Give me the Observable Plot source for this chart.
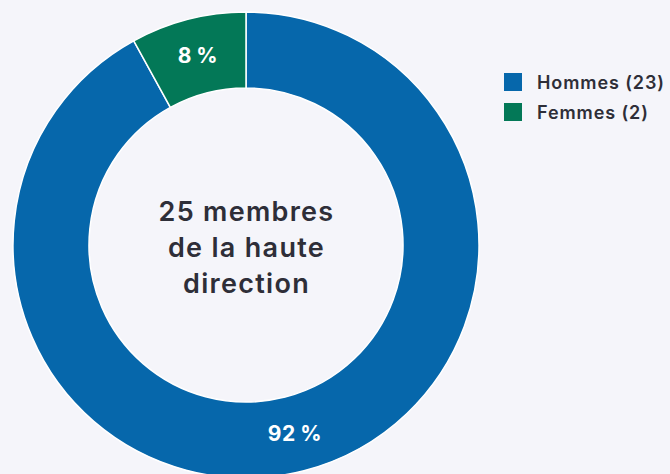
<!DOCTYPE html>
<html><head><meta charset="utf-8">
<script src="https://cdn.jsdelivr.net/npm/d3@7"></script>
<script src="https://cdn.jsdelivr.net/npm/@observablehq/plot@0.6"></script>
<style>
body{margin:0;background:#f5f5fa;}
#wrap{position:relative;width:670px;height:474px;overflow:hidden;font-family:Inter,"Noto Sans",sans-serif;}
#wrap svg{display:block;background:transparent;}
.legend{position:absolute;left:504px;top:73px;}
.item{display:flex;align-items:center;height:18px;margin-bottom:12px;font-size:18px;font-weight:600;color:#2e2e38;white-space:nowrap;letter-spacing:0.9px;}
.sw{width:18px;height:18px;margin-right:15px;flex:none;}
</style></head><body><div id="wrap"></div>
<script>
const categories = ["Hommes", "Femmes"];
const counts = [23, 2];
const colors = ["#0667ab", "#037857"];
const centerLines = ["25 membres", "de la haute", "direction"];

const W = 670, H = 474, R = 233, CX = 246, CY = 245, INNER = 157 / 233;
const data = categories.map((c, i) => ({category: c, count: counts[i], color: colors[i]}));
const total = d3.sum(counts);
const arcs = d3.pie().sort(null).value(d => d.count)(data);
const arcUnit = d3.arc().innerRadius(INNER).outerRadius(1);
const labels = arcs.map(a => {
  const [sx, sy] = arcUnit.centroid(a);
  return {x: sx, y: -sy, text: Math.round(100 * a.data.count / total) + "\u2009%"};
});

const donut = (index, scales) => {
  const x = scales.x, y = scales.y;
  const r = x(1) - x(0);
  const arc = d3.arc().innerRadius(INNER * r).outerRadius(r);
  const g = d3.create("svg:g").attr("transform", `translate(${x(0)},${y(0)})`);
  g.selectAll("path").data(arcs).join("path")
    .attr("d", arc).attr("fill", d => d.data.color)
    .attr("stroke", "#ffffff").attr("stroke-width", 1.5);
  return g.node();
};

const chart = Plot.plot({
  width: W, height: H, margin: 0,
  style: {background: "transparent", fontFamily: "Inter, 'Noto Sans', sans-serif"},
  x: {domain: [-CX / R, (W - CX) / R], axis: null},
  y: {domain: [-(H - CY) / R, CY / R], axis: null},
  marks: [
    donut,
    Plot.text(labels, {x: "x", y: "y", text: "text", fill: "white", fontSize: 21, fontWeight: 700}),
    Plot.text([centerLines.join("\n")], {x: 0, y: 0, dy: 0, text: d => d, fontSize: 27, fontWeight: 600, lineHeight: 1.33, fill: "#2e2e38"})
  ]
});
d3.select(chart).selectAll("text").each(function() {
  const fs = parseFloat(d3.select(this.closest("g[font-size]") || this).attr("font-size"));
  d3.select(this).style("letter-spacing", fs > 24 ? "1.3px" : "0.8px");
});
const wrap = document.getElementById("wrap");
wrap.appendChild(chart);
const leg = document.createElement("div");
leg.className = "legend";
data.forEach(d => {
  const it = document.createElement("div");
  it.className = "item";
  it.innerHTML = `<span class="sw" style="background:${d.color}"></span><span>${d.category} (${d.count})</span>`;
  leg.appendChild(it);
});
wrap.appendChild(leg);
</script></body></html>
